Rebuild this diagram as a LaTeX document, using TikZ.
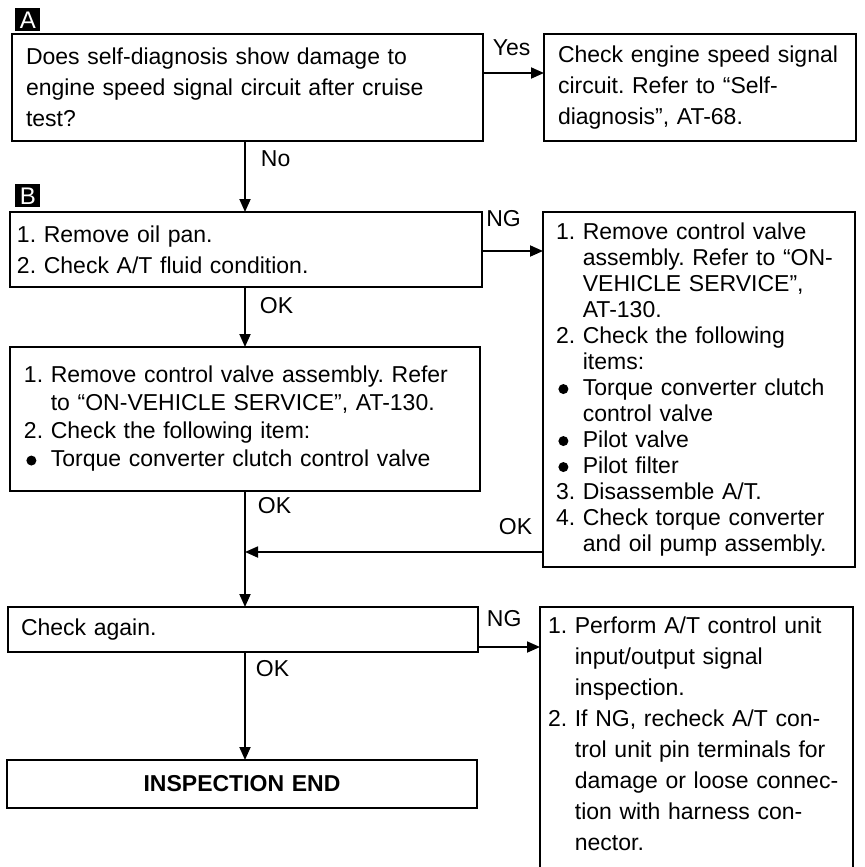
\documentclass[tikz,border=0pt]{standalone}
\usepackage{fontspec}
\setmainfont{Liberation Sans}
\usetikzlibrary{positioning, arrows.meta}

\frenchspacing
\newcommand{\itemind}{\leavevmode\phantom{1.\ }}
\newcommand{\itembul}{\leavevmode\makebox[0pt][l]{\hspace{1.2pt}\tikz[baseline=-3.2pt]\fill (0pt,0pt) circle (2.5pt);}\phantom{1.\ }}

\begin{document}
\begin{tikzpicture}[
    x=0.5pt, y=-0.5pt,
    font=\fontsize{11.5}{15.5}\selectfont,
    >={Triangle[length=6.5pt, width=5.5pt]},
    stepbox/.style={draw, line width=0.9pt, anchor=north west, outer sep=0pt,
        inner xsep=#1, align=left},
    tag/.style={fill=black, text=white, anchor=north west, inner sep=0pt,
        minimum width=12.5pt, minimum height=11.5pt, font=\fontsize{12}{12}\selectfont},
    lbl/.style={inner sep=0pt},
    flow/.style={->, line width=0.9pt}
  ]
    \useasboundingbox (0,0) rectangle (864,867);

    % section A
    \node[tag] (tagA) at (15,8) {A};
    \node[stepbox=7pt, text width=221.5pt, minimum height=53.5pt] (diag) at (12,34)
        {Does self-diagnosis show damage to\\engine speed signal circuit after cruise\\test?};
    \node[stepbox=7pt, text width=142pt, minimum height=53.5pt] (circuit) at (544,34)
        {Check engine speed signal\\circuit. Refer to “Self-\\diagnosis”, AT-68.};

    % section B
    \node[tag] (tagB) at (15,184) {B};
    \node[stepbox=3.5pt, text width=229pt, minimum height=37.5pt] (oilpan) at (10,212)
        {1. Remove oil pan.\\2. Check A/T fluid condition.};
    \node[stepbox=6.5pt, text width=143pt, minimum height=177.5pt,
        font=\fontsize{11.5}{13}\selectfont] (valves) at (543,212)
        {1. Remove control valve\\
         \itemind assembly. Refer to “ON-\\
         \itemind VEHICLE SERVICE”,\\
         \itemind AT-130.\\
         2. Check the following\\
         \itemind items:\\
         \itembul Torque converter clutch\\
         \itemind control valve\\
         \itembul Pilot valve\\
         \itembul Pilot filter\\
         3. Disassemble A/T.\\
         4. Check torque converter\\
         \itemind and oil pump assembly.};
    \node[stepbox=7pt, text width=221pt, minimum height=72pt,
        font=\fontsize{11.5}{14}\selectfont] (tcc) at (10,347)
        {1. Remove control valve assembly. Refer\\
         \itemind to “ON-VEHICLE SERVICE”, AT-130.\\
         2. Check the following item:\\
         \itembul Torque converter clutch control valve};
    \node[stepbox=6.5pt, text width=222pt, minimum height=22.5pt] (again) at (8,607)
        {Check again.};
    \node[stepbox=4pt, text width=148.5pt, inner ysep=5pt, text depth=140pt] (pinchk) at (540,607)
        {1. Perform A/T control unit\\
         \itemind input/output signal\\
         \itemind inspection.\\
         2. If NG, recheck A/T con-\\
         \itemind trol unit pin terminals for\\
         \itemind damage or loose connec-\\
         \itemind tion with harness con-\\
         \itemind nector.};
    \node[stepbox=7pt, text width=221pt, minimum height=24pt, align=center,
        font=\fontsize{11.5}{15.5}\selectfont\bfseries] (done) at (7,760)
        {INSPECTION END};

    % connectors
    \coordinate (spine) at (245,0);
    \coordinate (merge) at (245,552);
    \draw[flow] (diag.east |- 0,73) -- node[lbl, pos=0, above right={8pt and 4.5pt}] {Yes} (circuit.west |- 0,73);
    \draw[flow] (diag.south -| spine) -- node[lbl, pos=0, below right={4.5pt and 7.5pt}] {No} (oilpan.north -| spine);
    \draw[flow] (oilpan.east |- 0,251) -- node[lbl, pos=0, above right={11.5pt and 1.7pt}] {NG} (valves.west |- 0,251);
    \draw[flow] (oilpan.south -| spine) -- node[lbl, pos=0, below right={5pt and 7pt}] {OK} (tcc.north -| spine);
    \draw[flow] (valves.west |- merge) -- node[lbl, pos=0, above left={8pt and 5pt}] {OK} (merge);
    \draw[flow] (tcc.south -| spine) -- node[lbl, pos=0, below right={3pt and 6pt}] {OK} (again.north -| spine);
    \draw[flow] (again.east |- 0,647) -- node[lbl, pos=0, above right={9.5pt and 4pt}] {NG} (pinchk.west |- 0,647);
    \draw[flow] (again.south -| spine) -- node[lbl, pos=0, below right={4pt and 5pt}] {OK} (done.north -| spine);
\end{tikzpicture}
\end{document}
